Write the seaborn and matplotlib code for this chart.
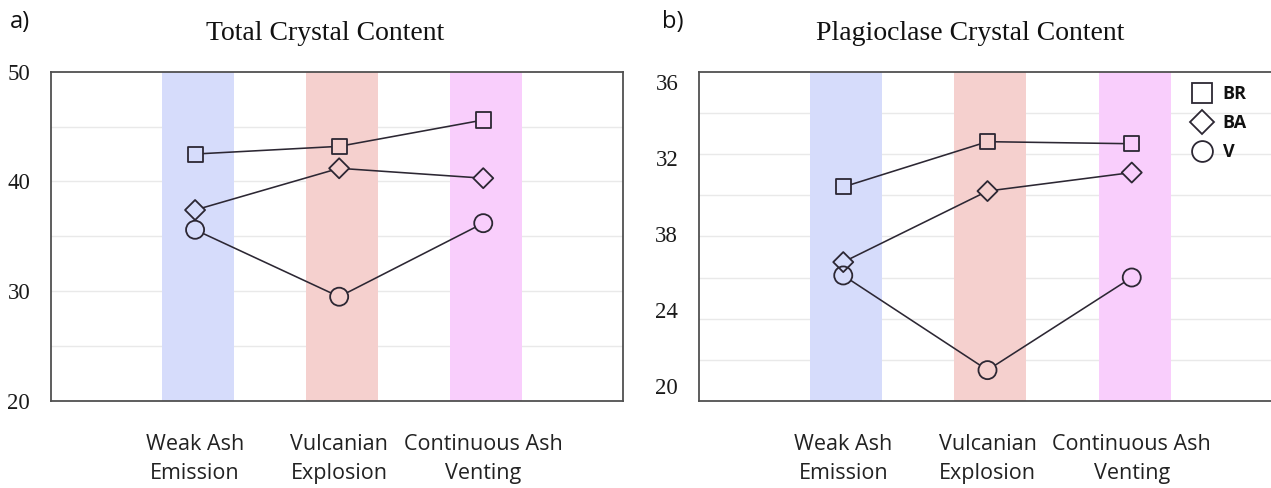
import matplotlib
matplotlib.use("Agg")
import matplotlib.pyplot as plt
from matplotlib.lines import Line2D
import numpy as np
import pandas as pd
import seaborn as sns

# ---- data -------------------------------------------------------------
phases = ["Weak Ash\nEmission", "Vulcanian\nExplosion", "Continuous Ash\nVenting"]
series_names = ["BR", "BA", "V"]

total_br = [42.5, 43.2, 45.6]
total_ba = [37.4, 41.2, 40.3]
total_v = [35.6, 29.5, 36.2]

plag_br = [30.4, 32.6, 32.5]
plag_ba = [26.75, 30.2, 31.1]
plag_v = [26.1, 21.5, 26.0]

total_ticks = [20, 30, 40, 50]
total_tick_labels = ["20", "30", "40", "50"]
plag_tick_labels = ["36", "32", "38", "24", "20"]

# ---- styling ----------------------------------------------------------
sns.set_theme(style="white")
plt.rcParams["font.family"] = ["Liberation Serif", "DejaVu Serif"]

band_colors = ["#d6dcfb", "#f5d0ce", "#f9cefc"]
ink = "#2c2733"
spine_col = "#505050"
grid_col = "#e9e9e9"
markers = {"BR": "s", "BA": "D", "V": "o"}
sizes = {"BR": 117, "BA": 104, "V": 169}
sans = ["Open Sans", "DejaVu Sans"]

W, H = 1271, 488
fig = plt.figure(figsize=(W / 100, H / 100), dpi=100)


def px_axes(x0, x1, y0, y1):
    return fig.add_axes([x0 / W, 1 - y1 / H, (x1 - x0) / W, (y1 - y0) / H])


ax_a = px_axes(51, 623, 71.7, 401)
ax_b = px_axes(699, 1276, 71.7, 401)


def draw_panel(ax, series, ylim, grid_step, xmax):
    xs = np.arange(len(phases))
    ax.set_xlim(-1.0, xmax)
    ax.set_ylim(*ylim)

    # light horizontal grid
    for g in np.arange(ylim[0] + grid_step, ylim[1], grid_step):
        ax.axhline(g, color=grid_col, lw=1.0, zorder=0)

    # coloured phase bands
    for x, c in zip(xs, band_colors):
        ax.axvspan(x - 0.23, x + 0.27, color=c, lw=0, zorder=1)

    frames = []
    for name, vals in zip(series_names, series):
        frames.append(pd.DataFrame({"x": xs, "y": vals, "series": name,
                                    "phase": phases}))
    df = pd.concat(frames, ignore_index=True)

    # connecting lines
    for name in series_names:
        sub = df[df.series == name]
        sns.lineplot(data=sub, x="x", y="y", ax=ax, color=ink, lw=1.15,
                     zorder=3, legend=False)

    # marker interiors take the band colour so lines stop at the outline
    pal = dict(zip(phases, band_colors))
    for name in series_names:
        sub = df[df.series == name]
        sns.scatterplot(data=sub, x="x", y="y", hue="phase", palette=pal,
                        marker=markers[name], s=sizes[name], linewidth=0,
                        ax=ax, zorder=4, legend=False)
    # outlines on top
    for name in series_names:
        sub = df[df.series == name]
        sns.scatterplot(data=sub, x="x", y="y", marker=markers[name],
                        s=sizes[name], color=ink, edgecolor=ink,
                        linewidth=1.3, ax=ax, zorder=5, legend=False)
        ax.collections[-1].set_facecolor("none")

    for sp in ax.spines.values():
        sp.set_color(spine_col)
        sp.set_linewidth(1.3)
        sp.set_zorder(6)

    ax.set_xticks(xs)
    ax.set_xticklabels(phases, family=sans, fontsize=15.5, color="#222222",
                       linespacing=1.5)
    ax.tick_params(axis="x", length=0, pad=24)
    ax.tick_params(axis="y", length=0, pad=15, labelsize=16.5,
                   labelcolor="#1a1a1a")
    ax.set_xlabel("")
    ax.set_ylabel("")


draw_panel(ax_a, [total_br, total_ba, total_v], (20, 50), 5, 2.97)
ax_a.set_yticks(total_ticks)
ax_a.set_yticklabels(total_tick_labels)

draw_panel(ax_b, [plag_br, plag_ba, plag_v], (20, 36), 2, 3.0)
ax_b.set_yticks([35.5, 31.8, 28.1, 24.4, 20.75])
ax_b.set_yticklabels(plag_tick_labels)

# titles
fig.text(325 / W, 1 - 33 / H, "Total Crystal Content", ha="center",
         va="center", fontsize=20, color="#111111")
fig.text(970 / W, 1 - 33 / H, "Plagioclase Crystal Content", ha="center",
         va="center", fontsize=20, color="#111111")
fig.text(10 / W, 1 - 22 / H, "a)", ha="left", va="center", fontsize=17,
         family=sans, color="#111111")
fig.text(662 / W, 1 - 22 / H, "b)", ha="left", va="center", fontsize=17,
         family=sans, color="#111111")

# legend
leg_sizes = {"BR": 13.7, "BA": 12.5, "V": 15.0}
handles = [Line2D([], [], ls="none", marker=markers[n], ms=leg_sizes[n],
                  mfc="white", mec=ink, mew=1.3, label=n)
           for n in series_names]
leg = ax_b.legend(handles=handles, loc="upper left",
                  bbox_to_anchor=((1192 - 699) / 577, 0.96), frameon=False,
                  borderaxespad=0, borderpad=0, handlelength=1.15,
                  handletextpad=0.55, labelspacing=0.62,
                  prop={"family": sans, "weight": "bold", "size": 13})
for t in leg.get_texts():
    t.set_color("#111111")

fig.savefig("out.png", dpi=100, facecolor="white")
